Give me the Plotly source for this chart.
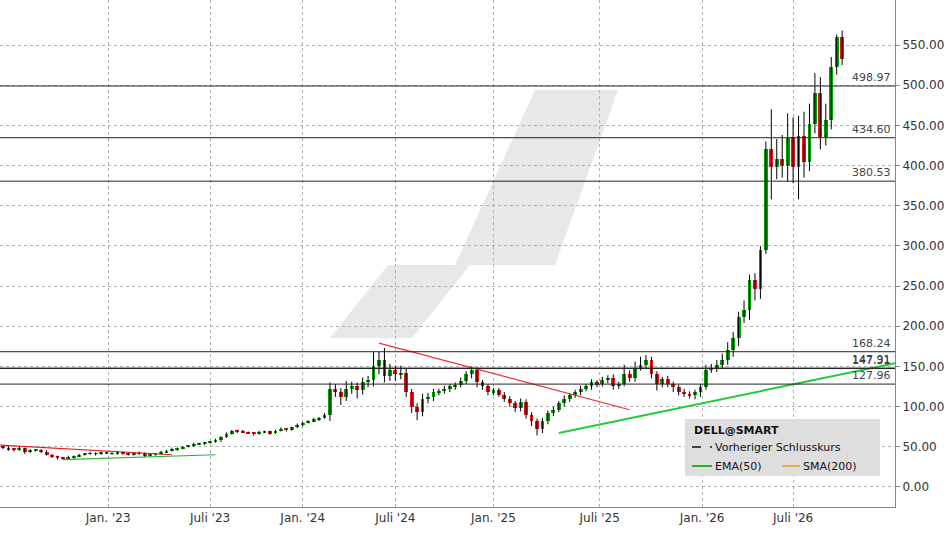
import plotly.graph_objects as go

closes = [49,47,46,48,44,45,46,44,40,38,
          36,35,37,38,40,41,42,41,43,42,
          41,43,42,40,41,42,39,40,41,43,
          45,47,48,50,51,53,54,55,56,58,
          62,66,70,69,68,67,66,68,69,67,
          70,72,71,74,77,80,82,84,86,90,
          122,118,112,122,125,120,130,133,150,158,
          138,145,140,142,118,100,93,110,112,118,
          119,122,125,127,132,140,145,130,125,118,
          120,115,110,104,98,106,90,82,72,82,
          92,96,104,110,114,118,122,125,130,128,
          133,136,126,128,140,135,148,152,158,140,
          128,134,128,124,118,116,114,118,124,146,
          148,152,158,170,185,212,220,258,246,295,
          420,398,408,400,435,398,437,405,452,490,435,457,523,560,533]
first_open = 50
wick_up = [2,2,1,2,1,2,1,1,2,1, 1,1,2,1,1,1,2,1,1,1, 1,2,1,1,1,2,1,1,1,2, 1,2,1,1,1,2,1,1,1,2,
           1,2,1,1,2,1,1,2,1,1, 1,2,1,1,2,1,1,2,1,2, 8,6,5,10,6,5,6,5,18,10, 15,8,6,9,5,4,4,6,5,4,
           3,4,3,3,4,4,5,4,3,3, 3,3,3,3,3,4,3,3,3,4, 3,4,3,4,3,3,4,3,4,3, 4,3,4,3,12,5,8,10,6,4,
           4,3,4,3,3,4,3,3,4,6, 5,6,8,10,8,6,12,6,8,5, 10,50,25,30,30,25,25,30,25,25,20,20,12,3,8]
wick_dn = [2,2,2,1,3,2,1,2,1,2, 2,1,1,2,1,1,1,2,1,1, 1,1,2,1,1,1,2,1,1,1, 1,1,2,1,1,1,1,2,1,1,
           2,1,1,2,1,1,2,1,1,2, 1,1,2,1,1,2,1,1,2,1, 8,6,10,5,6,10,5,6,8,10, 8,6,8,6,6,8,10,5,6,5,
           4,3,4,4,3,4,5,6,4,4, 4,3,4,4,5,4,5,6,8,5, 4,4,3,4,4,3,4,3,4,4, 3,4,5,4,3,4,4,3,4,5,
           8,4,4,6,4,4,4,5,6,3, 4,5,4,6,8,10,8,12,14,12, 5,40,15,15,20,20,40,20,12,12,15,10,12,10,8]

tick_pos = [19.3, 38.0, 55.0, 72.0, 90.0, 109.5, 128.3, 145.0]
tick_text = ["Jan. '23", "Juli '23", "Jan. '24", "Juli '24", "Jan. '25", "Juli '25", "Jan. '26", "Juli '26"]
levels = [498.97, 434.60, 380.53, 168.24, 147.91, 147.31, 127.96]
level_labels = ["498.97", "434.60", "380.53", "168.24", "147.91", "147.31", "127.96"]
red_tl1_x, red_tl1_y = [-0.5, 31], [52, 40]
green_tl1_x, green_tl1_y = [11, 39], [34, 40]
red_tl2_x, red_tl2_y = [69, 115], [179, 96]
green_tl2_x, green_tl2_y = [102, 163.7], [67, 154]

n = len(closes)
idx = list(range(n))
opens = [first_open] + closes[:-1]
highs = [max(o, c) + u for o, c, u in zip(opens, closes, wick_up)]
lows = [min(o, c) - d for o, c, d in zip(opens, closes, wick_dn)]

fig = go.Figure()
wx, wy = [], []
for i in idx:
    wx += [i, i, None]
    wy += [lows[i], highs[i], None]
fig.add_trace(go.Scatter(x=wx, y=wy, mode="lines", line=dict(color="black", width=1), hoverinfo="skip"))
fig.add_trace(go.Bar(x=idx, base=[min(o, c) for o, c in zip(opens, closes)],
                     y=[max(abs(c - o), 1.2) for o, c in zip(opens, closes)],
                     marker=dict(color=["#07a007" if c >= o else "#e8161b" for o, c in zip(opens, closes)], line_width=0),
                     width=0.7))
for tx, ty, col in [(red_tl1_x, red_tl1_y, "#e02020"), (green_tl1_x, green_tl1_y, "#30b040"),
                    (red_tl2_x, red_tl2_y, "#f03030"), (green_tl2_x, green_tl2_y, "#22cc33")]:
    fig.add_trace(go.Scatter(x=tx, y=ty, mode="lines", line=dict(color=col, width=2 if col == "#22cc33" else 1.2), hoverinfo="skip"))

X0, X1 = -0.55, 163.7
def px2paper(px):
    return px / 895

def poly(pts):
    return "M " + " L ".join("%f %f" % (px2paper(a), 1 - b / 507) for a, b in pts) + " Z"

shapes = [dict(type="path", xref="paper", yref="paper", layer="below", fillcolor="#e8e8e8", line_width=0,
               path=poly([(330, 338), (412, 338), (470, 265), (388, 265)])),
          dict(type="path", xref="paper", yref="paper", layer="below", fillcolor="#e8e8e8", line_width=0,
               path=poly([(455, 265), (555, 265), (618, 90), (535, 90)]))]
for lv in levels:
    shapes.append(dict(type="line", xref="paper", x0=0, x1=1, y0=lv, y1=lv, line=dict(color="#222", width=1)))
shapes.append(dict(type="rect", xref="paper", yref="paper", x0=px2paper(685), x1=px2paper(880),
                   y0=1 - 476 / 507, y1=1 - 419 / 507, fillcolor="#dedede", line_width=0))
shapes.append(dict(type="line", xref="paper", yref="paper", x0=px2paper(692), x1=px2paper(712), y0=1 - 447 / 507, y1=1 - 447 / 507, line=dict(color="#444", width=2, dash="dash")))
shapes.append(dict(type="line", xref="paper", yref="paper", x0=px2paper(692), x1=px2paper(712), y0=1 - 466 / 507, y1=1 - 466 / 507, line=dict(color="#2ab02a", width=2)))
shapes.append(dict(type="line", xref="paper", yref="paper", x0=px2paper(782), x1=px2paper(800), y0=1 - 466 / 507, y1=1 - 466 / 507, line=dict(color="#e0b050", width=2)))

anns = []
for lv, lab in zip(levels, level_labels):
    anns.append(dict(xref="paper", x=1, y=lv, text=lab, showarrow=False, xanchor="right", yanchor="bottom",
                     font=dict(size=11, color="#444"), xshift=-2))
for tx, ty, txt in [(692, 430, "<b>DELL@SMART</b>"), (713, 447, "Vorheriger Schlusskurs"),
                    (713, 466, "EMA(50)"), (801, 466, "SMA(200)")]:
    anns.append(dict(xref="paper", yref="paper", x=px2paper(tx), y=1 - ty / 507, text=txt, showarrow=False,
                     xanchor="left", yanchor="middle", font=dict(size=11, color="#111")))

fig.update_layout(width=948, height=534, margin=dict(l=0, r=53, t=0, b=27), showlegend=False,
                  plot_bgcolor="white", paper_bgcolor="white", bargap=0, shapes=shapes, annotations=anns,
                  font=dict(family="DejaVu Sans", size=12, color="#333"))
fig.update_xaxes(range=[X0, X1], tickvals=tick_pos, ticktext=tick_text, showgrid=True, gridcolor="#b0b0b0",
                 griddash="dot", showline=True, linecolor="#888", ticks="", zeroline=False)
fig.update_yaxes(range=[-25, 606], side="right", tickvals=list(range(0, 551, 50)),
                 ticktext=["%.2f" % v for v in range(0, 551, 50)], showgrid=True, gridcolor="#b0b0b0",
                 griddash="dot", showline=True, linecolor="#888", mirror=False, zeroline=False, ticks="outside",
                 ticklen=4, tickcolor="#888")
fig.write_html("out.html", config={"displayModeBar": False}, post_script="document.body.style.margin='0';")
